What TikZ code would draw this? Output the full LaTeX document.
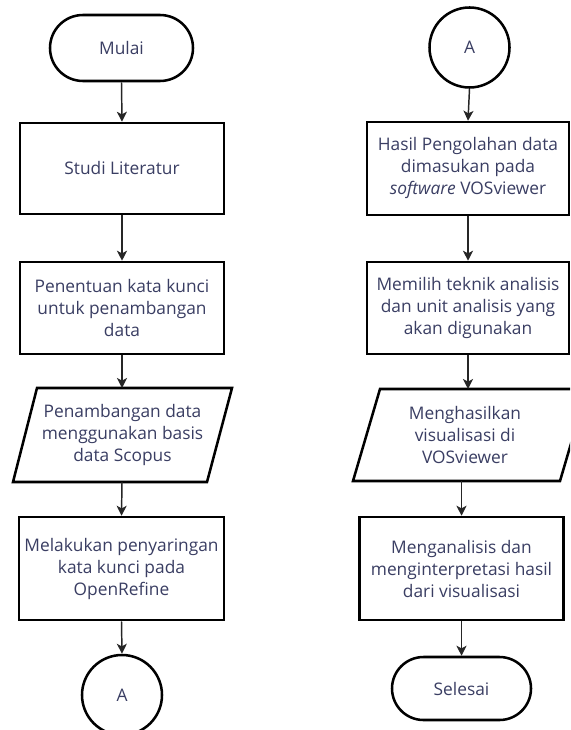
\documentclass[tikz,border=0pt]{standalone}
\usepackage{fontspec}
\setmainfont{Open Sans}
\usetikzlibrary{shapes.misc,arrows.meta}
\definecolor{txtc}{RGB}{58,62,99}
\begin{document}
\begin{tikzpicture}[x=0.75pt,y=-0.75pt,
  lbl/.style={font=\fontsize{13}{16.5}\selectfont, text=txtc, align=center, inner sep=0pt},
  box/.style={lbl, draw=black, line width=1.9pt, rectangle},
  term/.style={lbl, draw=black, line width=1.9pt, rounded rectangle},
  conn/.style={lbl, draw=black, line width=1.9pt, circle, minimum size=60pt},
  pbox/.style={draw=black, line width=1.9pt, line join=miter},
  arr/.style={draw=black!85, line width=1.1pt, -{Stealth[length=7.5pt,width=7.5pt,inset=2pt]}}]
\useasboundingbox (0,0) rectangle (570,730);
\clip (0,0) rectangle (570,730);
\fill[white] (0,0) rectangle (570,730);

% left column
\node[term, minimum width=107.25pt, minimum height=49.5pt] (mulai) at (121.5,48) {Mulai};
\node[box, minimum width=153pt, minimum height=68.25pt] (studi) at (122,168.5) {Studi Literatur};
\node[box, minimum width=153pt, minimum height=69pt] (pent) at (122,308) {Penentuan kata kunci\\untuk penambangan\\data};
\draw[pbox] (13,482) -- (37,388) -- (232,388) -- (207,482) -- cycle;
\coordinate (pen-n) at (122,388);
\coordinate (pen-s) at (122,482);
\node[lbl] (pen) at (122.5,435) {Penambangan data\\menggunakan basis\\data Scopus};
\node[box, minimum width=153.75pt, minimum height=77.25pt] (mel) at (121.5,568.5) {Melakukan penyaringan\\kata kunci pada\\OpenRefine};
\node[conn] (a1) at (122,695) {A};

% right column
\node[conn] (a2) at (469.5,47.5) {A};
\node[box, minimum width=151.5pt, minimum height=69.75pt] (hasil) at (468,168.5) {Hasil Pengolahan data\\dimasukan pada\\\textit{software} VOSviewer};
\node[box, minimum width=151.5pt, minimum height=69pt] (memilih) at (468,308) {Memilih teknik analisis\\dan unit analisis yang\\akan digunakan};
\draw[pbox] (353,481) -- (380,389) -- (587,389) -- (560,481) -- cycle;
\coordinate (mgh-n) at (468,389);
\coordinate (mgh-s) at (461.5,481);
\node[lbl] (mgh) at (465,435) {Menghasilkan\\visualisasi di\\VOSviewer};
\node[box, minimum width=153pt, minimum height=77.25pt] (meng) at (461.5,568.5) {Menganalisis dan\\menginterpretasi hasil\\dari visualisasi};
\node[term, minimum width=104.25pt, minimum height=47.25pt] (selesai) at (461.5,688.5) {Selesai};

% connectors
\draw[arr] (mulai.south) -- (studi.north);
\draw[arr] (studi.south) -- (pent.north);
\draw[arr] (pent.south) -- (pen-n);
\draw[arr] (pen-s) -- (mel.north);
\draw[arr] (mel.south) -- (a1.north);
\draw[arr] (a2.south) -- (hasil.north);
\draw[arr] (hasil.south) -- (memilih.north);
\draw[arr] (memilih.south) -- (mgh-n);
\draw[arr] (mgh-s) -- (meng.north);
\draw[arr] (meng.south) -- (selesai.north);
\end{tikzpicture}
\end{document}
